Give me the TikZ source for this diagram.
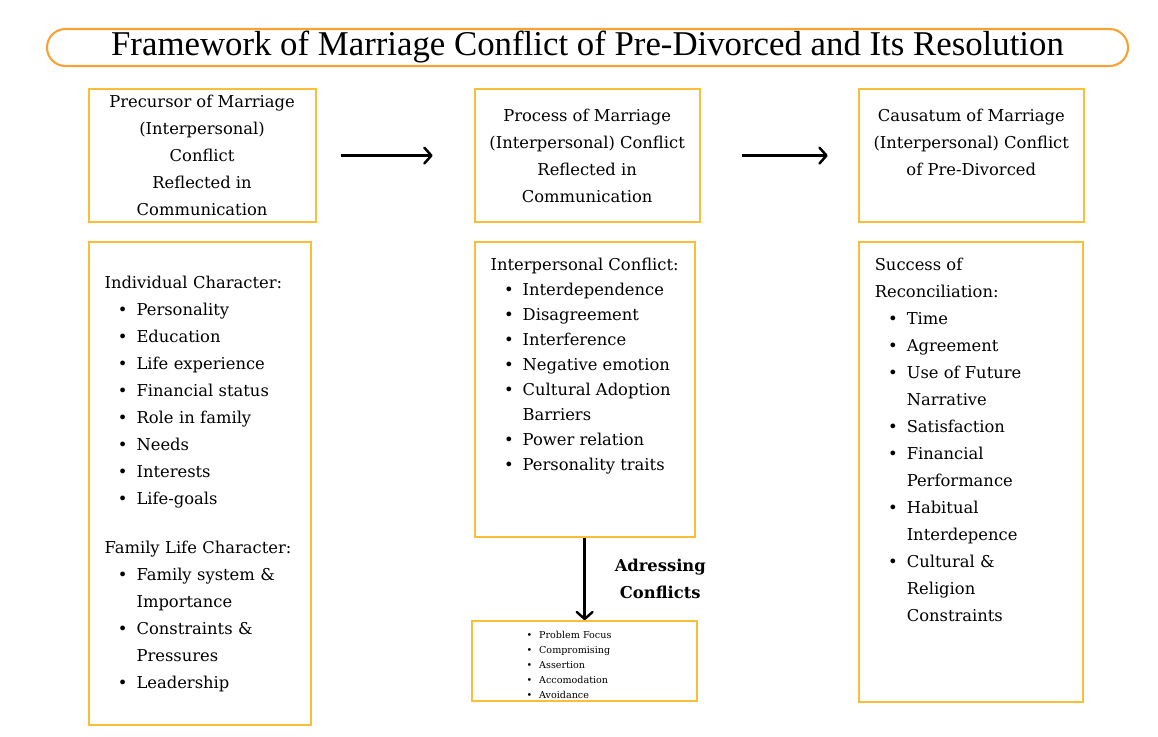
\documentclass[tikz,border=0pt]{standalone}
\usepackage{fontspec}
\setmainfont{DejaVu Serif}
\newfontfamily\titlefont{Liberation Serif}
\usepackage{enumitem}
\usepackage{tikz}
\usetikzlibrary{arrows.meta, positioning}
\definecolor{boxorange}{RGB}{250, 190, 55}
\definecolor{titleorange}{RGB}{246, 162, 55}
\newcommand{\bodyfont}{\fontsize{9.3pt}{15.36pt}\selectfont}
\newcommand{\tightfont}{\fontsize{9.3pt}{14.2pt}\selectfont}
\newcommand{\tinyfont}{\fontsize{5.45pt}{8.5pt}\selectfont}
\setlist[itemize]{nosep, label=\textbullet, leftmargin=0.64cm, labelsep=0.18cm}

\begin{document}
\begin{tikzpicture}[
    node distance=0.38cm and 3.15cm,
    titlebox/.style={
        rectangle, draw=titleorange, line width=1.2pt, rounded corners=0.37cm,
        minimum width=21.62cm, minimum height=0.74cm, inner sep=0pt,
        font=\titlefont\fontsize{19.8pt}{21pt}\selectfont
    },
    headbox/.style={
        rectangle, draw=boxorange, line width=1.2pt, align=center,
        minimum width=4.5cm, minimum height=2.66cm, inner sep=2pt, font=\bodyfont
    },
    listbox/.style={
        rectangle, draw=boxorange, line width=1.2pt, inner sep=0.32cm, font=\bodyfont
    },
    flow/.style={
        -{Straight Barb[length=4pt, width=9pt, round]}, line width=1.4pt, draw=black
    }
]
\useasboundingbox (0,0) rectangle (23.16,-14.72);

% Title
\node[titlebox] (title) at (11.75,-0.95) {Framework of Marriage Conflict of Pre-Divorced and Its Resolution};

% Headers
\node[headbox, minimum width=4.54cm, anchor=north west] (precursor) at (1.75,-1.76) {
    Precursor of Marriage\\ (Interpersonal)\\ Conflict\\ Reflected in\\ Communication
};
\node[headbox, right=3.14cm of precursor] (process) {
    Process of Marriage\\ (Interpersonal) Conflict\\ Reflected in\\ Communication
};
\node[headbox, right=3.14cm of process] (causatum) {
    Causatum of Marriage\\ (Interpersonal) Conflict\\ of Pre-Divorced\\ \mbox{}
};

% Lists
\node[listbox, text width=3.8cm, align=left, minimum height=9.66cm,
      below=0.36cm of precursor.south west, anchor=north west] (character) {
    Individual Character:
    \begin{itemize}
        \item Personality
        \item Education
        \item Life experience
        \item Financial status
        \item Role in family
        \item Needs
        \item Interests
        \item Life-goals
    \end{itemize}
    \par\vspace{0.44cm}
    Family Life Character:
    \begin{itemize}
        \item Family system \&\newline Importance
        \item Constraints \&\newline Pressures
        \item Leadership
    \end{itemize}
};

\node[listbox, below=0.36cm of process.south west, anchor=north west] (conflict) {%
    \begin{minipage}[t][5.26cm][t]{3.76cm}\raggedright\tightfont
    Interpersonal Conflict:
    \begin{itemize}
        \item Interdependence
        \item Disagreement
        \item Interference
        \item Negative emotion
        \item Cultural Adoption\newline Barriers
        \item Power relation
        \item Personality traits
    \end{itemize}
    \end{minipage}%
};

\node[listbox, below=0.36cm of causatum.south west, anchor=north west] (success) {%
    \begin{minipage}[t][8.56cm][t]{3.84cm}\raggedright
    Success of\newline Reconciliation:
    \begin{itemize}
        \item Time
        \item Agreement
        \item Use of Future\newline Narrative
        \item Satisfaction
        \item Financial\newline Performance
        \item Habitual\newline Interdepence
        \item Cultural \&\newline Religion\newline Constraints
    \end{itemize}
    \end{minipage}%
};

\node[listbox, inner xsep=0.1cm, inner ysep=0.04cm, text width=4.3cm, align=left,
      minimum height=1.6cm, font=\tinyfont, below=1.64cm of conflict] (resolve) {
    \begin{itemize}[leftmargin=1.24cm, labelsep=0.14cm]
        \item Problem Focus
        \item Compromising
        \item Assertion
        \item Accomodation
        \item Avoidance
    \end{itemize}
};

% Arrows
\draw[flow, shorten <=0.48cm, shorten >=0.82cm] (precursor.east) -- (process.west);
\draw[flow, shorten <=0.82cm, shorten >=0.6cm] (process.east) -- (causatum.west);
\draw[flow] (conflict.south) -- node[right=0.46cm, font=\bodyfont\bfseries, align=center]{Adressing\\ Conflicts} (resolve.north);

\end{tikzpicture}
\end{document}
